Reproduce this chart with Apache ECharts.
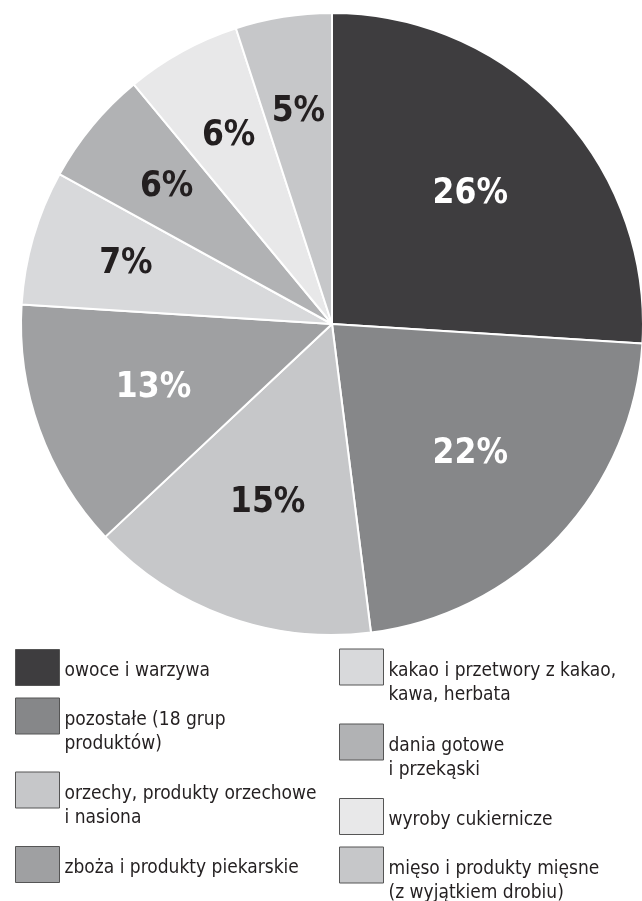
<!DOCTYPE html>
<html>
<head>
<meta charset="utf-8">
<script src="https://cdn.jsdelivr.net/npm/echarts@6/dist/echarts.min.js"></script>
<style>
  html, body { margin: 0; padding: 0; background: #fff; }
  #chart { width: 642px; height: 901px; }
</style>
</head>
<body>
<div id="chart"></div>
<script>
// Product groups (clockwise from 12 o'clock) and their shares in %
var categories = [
  'owoce i warzywa',
  'pozostałe (18 grup\nproduktów)',
  'orzechy, produkty orzechowe\ni nasiona',
  'zboża i produkty piekarskie',
  'kakao i przetwory z kakao,\nkawa, herbata',
  'dania gotowe\ni przekąski',
  'wyroby cukiernicze',
  'mięso i produkty mięsne\n(z wyjątkiem drobiu)'
];
var shares = [26, 22, 15, 13, 7, 6, 6, 5];

// Fill per slice and the colour of the percentage printed on it
var sliceColors = ['#3e3d3f', '#868789', '#c6c7c9', '#9fa0a2', '#d8d9db', '#b1b2b4', '#e8e8e9', '#c6c7c9'];
var labelColors = ['#ffffff', '#ffffff', '#231f20', '#ffffff', '#231f20', '#231f20', '#231f20', '#231f20'];

var FONT = '"Liberation Sans Narrow", "DejaVu Sans Condensed", "Arial Narrow", sans-serif';
var CX = 332, CY = 324, R = 311;

// Legend layout: two columns, box top of each entry
var legendCols = [15, 15, 15, 15, 339, 339, 339, 339];
var legendTops = [649, 698, 772, 846, 649, 724, 798, 847];

var legends = categories.map(function (name, i) {
  var twoLines = name.indexOf('\n') >= 0;
  return {
    data: [name],
    left: legendCols[i],
    top: twoLines ? legendTops[i] - 8 : legendTops[i],
    orient: 'vertical',
    padding: 0,
    itemWidth: 44,
    itemHeight: 36,
    itemGap: 0,
    selectedMode: false,
    icon: 'rect',
    itemStyle: { borderColor: '#555555', borderWidth: 1 },
    // a blank spacer line drops the text so its first line sits level with the box middle
    formatter: function (n) {
      var lines = n.split('\n').map(function (l) { return '{t|' + l + '}'; });
      return (twoLines ? '{s2|\u00a0}\n' : '{s1|\u00a0}\n') + lines.join('\n');
    },
    textStyle: {
      fontFamily: FONT,
      fontSize: 19,
      color: '#231f20',
      rich: {
        t: { fontFamily: FONT, fontSize: 19, lineHeight: 24, color: '#231f20' },
        s1: { fontSize: 4, lineHeight: 8 },
        s2: { fontSize: 4, lineHeight: 32 }
      }
    }
  };
});

var chart = echarts.init(document.getElementById('chart'), null, { renderer: 'canvas' });
chart.setOption({
  animation: false,
  backgroundColor: '#ffffff',
  legend: legends,
  series: [{
    type: 'pie',
    center: [CX, CY],
    radius: [0, R],
    startAngle: 90,
    clockwise: true,
    avoidLabelOverlap: false,
    silent: true,
    itemStyle: { borderColor: '#ffffff', borderWidth: 2 },
    label: {
      show: true,
      position: 'inside',
      fontFamily: FONT,
      fontWeight: 'bold',
      fontSize: 35,
      formatter: function (p) { return p.value + '%'; }
    },
    labelLine: { show: false },
    // push labels outward along their radial direction: bigger slices sit nearer the middle
    labelLayout: function (p) {
      var lx = p.labelRect.x + p.labelRect.width / 2;
      var ly = p.labelRect.y + p.labelRect.height / 2;
      var vx = lx - CX, vy = ly - CY;
      var d = Math.sqrt(vx * vx + vy * vy) || 1;
      var target = shares[p.dataIndex] >= 13 ? 0.61 * R : 0.69 * R;
      return { dx: vx / d * (target - d), dy: vy / d * (target - d) };
    },
    data: categories.map(function (name, i) {
      return {
        name: name,
        value: shares[i],
        itemStyle: { color: sliceColors[i] },
        label: { color: labelColors[i] }
      };
    })
  }]
});
</script>
</body>
</html>
